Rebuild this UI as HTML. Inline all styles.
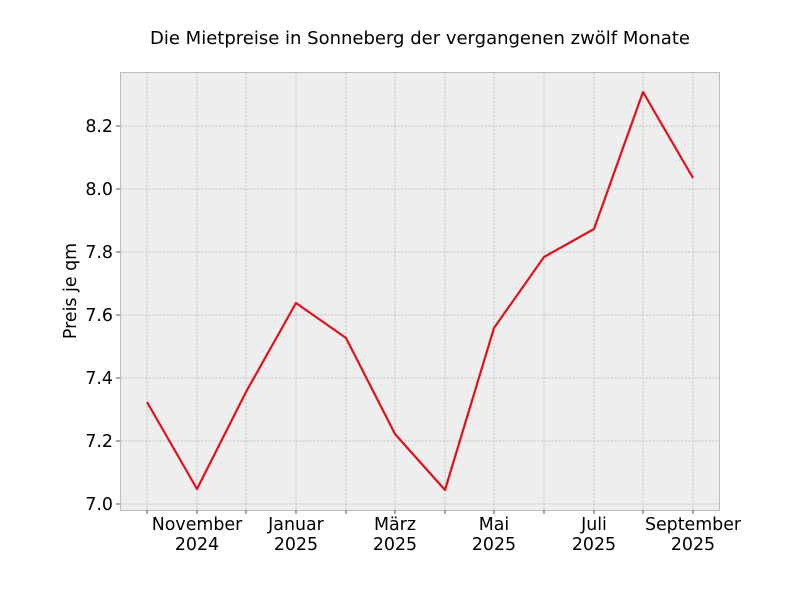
<!DOCTYPE html>
<html><head><meta charset="utf-8"><style>
body{margin:0;background:#fff;}
svg text{font-family:"DejaVu Sans","Liberation Sans",sans-serif;fill:#000;}
</style></head><body>
<svg width="800" height="600" xmlns="http://www.w3.org/2000/svg">
<rect x="0" y="0" width="800" height="600" fill="#fff"/>
<rect x="120.5" y="72.5" width="599" height="438" fill="#eeeeee" stroke="#bcbcbc" stroke-width="1"/>
<g stroke="#b2b2b2" stroke-width="0.7" stroke-dasharray="2,1.5">
<line x1="147" y1="73" x2="147" y2="510"/><line x1="197" y1="73" x2="197" y2="510"/>
<line x1="246" y1="73" x2="246" y2="510"/><line x1="296" y1="73" x2="296" y2="510"/>
<line x1="346" y1="73" x2="346" y2="510"/><line x1="395" y1="73" x2="395" y2="510"/>
<line x1="445" y1="73" x2="445" y2="510"/><line x1="494" y1="73" x2="494" y2="510"/>
<line x1="544" y1="73" x2="544" y2="510"/><line x1="594" y1="73" x2="594" y2="510"/>
<line x1="643" y1="73" x2="643" y2="510"/><line x1="693" y1="73" x2="693" y2="510"/>
<line x1="121" y1="504" x2="719" y2="504"/><line x1="121" y1="441" x2="719" y2="441"/>
<line x1="121" y1="378" x2="719" y2="378"/><line x1="121" y1="315" x2="719" y2="315"/>
<line x1="121" y1="252" x2="719" y2="252"/><line x1="121" y1="189" x2="719" y2="189"/>
<line x1="121" y1="126" x2="719" y2="126"/>
</g>
<g stroke="#555" stroke-width="1">
<line x1="147" y1="510" x2="147" y2="514"/><line x1="197" y1="510" x2="197" y2="514"/>
<line x1="246" y1="510" x2="246" y2="514"/><line x1="296" y1="510" x2="296" y2="514"/>
<line x1="346" y1="510" x2="346" y2="514"/><line x1="395" y1="510" x2="395" y2="514"/>
<line x1="445" y1="510" x2="445" y2="514"/><line x1="494" y1="510" x2="494" y2="514"/>
<line x1="544" y1="510" x2="544" y2="514"/><line x1="594" y1="510" x2="594" y2="514"/>
<line x1="643" y1="510" x2="643" y2="514"/><line x1="693" y1="510" x2="693" y2="514"/>
<line x1="116" y1="504" x2="120" y2="504"/><line x1="116" y1="441" x2="120" y2="441"/>
<line x1="116" y1="378" x2="120" y2="378"/><line x1="116" y1="315" x2="120" y2="315"/>
<line x1="116" y1="252" x2="120" y2="252"/><line x1="116" y1="189" x2="120" y2="189"/>
<line x1="116" y1="126" x2="120" y2="126"/>
</g>
<polyline fill="none" stroke="#e0101c" stroke-width="2.2" stroke-linejoin="round"
points="147,402 197,489 246,392 296,303 346,338 395,434 445,490 494,328 544,257 594,229 643,92 693,178"/>
<g font-size="17.4" text-anchor="end">
<text x="113" y="510">7.0</text><text x="113" y="447">7.2</text>
<text x="113" y="384">7.4</text><text x="113" y="321">7.6</text>
<text x="113" y="258">7.8</text><text x="113" y="195">8.0</text>
<text x="113" y="132">8.2</text>
</g>
<g font-size="17.4" text-anchor="middle">
<text x="197" y="530">November</text><text x="197" y="550">2024</text>
<text x="296" y="530">Januar</text><text x="296" y="550">2025</text>
<text x="395" y="530">März</text><text x="395" y="550">2025</text>
<text x="494" y="530">Mai</text><text x="494" y="550">2025</text>
<text x="594" y="530">Juli</text><text x="594" y="550">2025</text>
<text x="693" y="530">September</text><text x="693" y="550">2025</text>
</g>
<text x="76" y="291" font-size="17.4" text-anchor="middle" transform="rotate(-90 76 291)">Preis je qm</text>
<text x="420" y="44" font-size="18" text-anchor="middle">Die Mietpreise in Sonneberg der vergangenen zwölf Monate</text>
</svg>
</body></html>
